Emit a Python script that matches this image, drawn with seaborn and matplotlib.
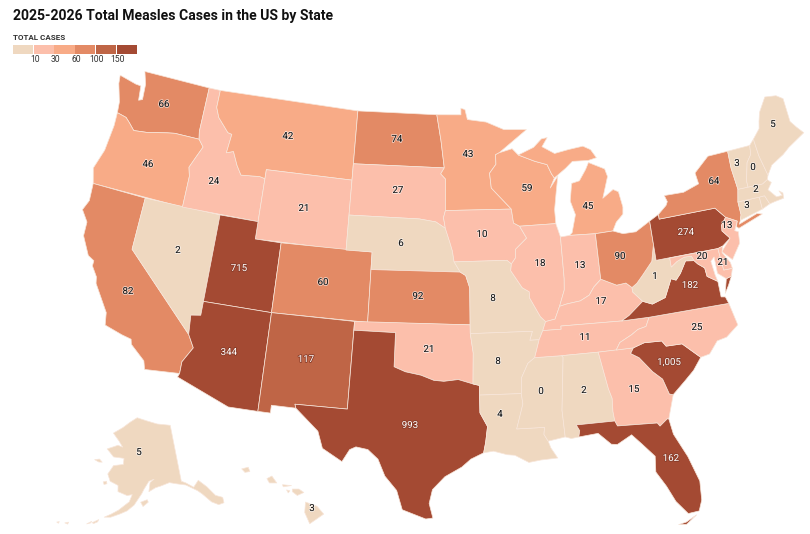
import math
import matplotlib
matplotlib.use("Agg")
import matplotlib.pyplot as plt
from matplotlib.patches import Polygon, Rectangle
import matplotlib.patheffects as pe
import seaborn as sns

# ---------- data ----------
state_codes = ["AK","HI","WA","OR","CA","NV","ID","MT","WY","UT","AZ","CO","NM","ND","SD","NE","KS","OK","TX",
               "MN","IA","MO","AR","LA","WI","IL","MS","MI","IN","KY","TN","AL","GA","FL","SC","NC","VA","WV",
               "OH","PA","NY","NJ","MD","DE","CT","RI","MA","VT","NH","ME"]
state_cases = [5,3,66,46,82,2,24,42,21,715,344,60,117,74,27,6,92,21,993,
               43,10,8,8,4,59,18,0,45,13,17,11,2,15,162,1005,25,182,1,
               90,274,64,13,20,21,3,3,2,3,0,5]
legend_breaks = [10,30,60,100,150]
bin_colors = ["#EFD8C0","#FCBFAB","#F8AB87","#E38A65","#BF6546","#A44A33"]

title_text = "2025-2026 Total Measles Cases in the US by State"
legend_title = "TOTAL CASES"

# state outlines (lon, lat), rough geography
shapes = {
"WA":[[(-124.7,48.38),(-123.2,48.15),(-122.75,48.13),(-122.6,47.3),(-122.3,47.4),(-122.4,48.3),(-122.76,49),(-117.03,49),(-117.04,46.42),(-116.92,45.99),(-118.98,46),(-119.6,45.92),(-121.2,45.65),(-122.3,45.55),(-122.8,45.9),(-123.2,46.15),(-124,46.27),(-124.1,46.9),(-124.6,47.9)]],
"OR":[[(-124,46.27),(-123.2,46.15),(-122.8,45.9),(-122.3,45.55),(-121.2,45.65),(-119.6,45.92),(-118.98,46),(-116.92,45.99),(-116.46,45.6),(-116.85,44.95),(-117.22,44.3),(-117.03,43.8),(-117.03,42),(-124.2,42),(-124.55,42.84),(-124.1,44),(-123.95,45.5)]],
"CA":[[(-124.2,42),(-120,42),(-120,39),(-114.63,35),(-114.13,34.3),(-114.72,33.4),(-114.72,32.72),(-117.12,32.53),(-117.3,33),(-118.4,33.75),(-118.5,34.03),(-119.2,34.15),(-120.5,34.45),(-120.65,35.15),(-121.9,36.6),(-122,36.96),(-122.5,37.5),(-122.5,37.8),(-123,38),(-123.75,39),(-123.8,39.8),(-124.4,40.4),(-124.1,41)]],
"NV":[[(-120,42),(-114.04,42),(-114.05,36.2),(-114.75,36.1),(-114.63,35),(-120,39)]],
"ID":[[(-117.03,49),(-116.05,49),(-116.05,48),(-115.7,47.45),(-114.7,46.7),(-114.35,46.65),(-114.5,45.55),(-113.95,45.7),(-113.45,44.95),(-113,44.45),(-111.5,44.55),(-111.05,44.48),(-111.05,42),(-117.03,42),(-117.03,43.8),(-117.22,44.3),(-116.85,44.95),(-116.46,45.6),(-116.92,45.99),(-117.04,46.42)]],
"MT":[[(-116.05,49),(-104.05,49),(-104.05,45),(-111.05,45),(-111.05,44.48),(-111.5,44.55),(-113,44.45),(-113.45,44.95),(-113.95,45.7),(-114.5,45.55),(-114.35,46.65),(-114.7,46.7),(-115.7,47.45),(-116.05,48)]],
"WY":[[(-111.05,45),(-104.05,45),(-104.05,41),(-111.05,41)]],
"UT":[[(-114.05,42),(-111.05,42),(-111.05,41),(-109.05,41),(-109.05,37),(-114.05,37)]],
"CO":[[(-109.05,41),(-102.05,41),(-102.05,37),(-109.05,37)]],
"AZ":[[(-114.05,37),(-109.05,37),(-109.05,31.33),(-111.07,31.33),(-114.81,32.5),(-114.72,32.72),(-114.72,33.4),(-114.13,34.3),(-114.63,35),(-114.75,36.1),(-114.05,36.2)]],
"NM":[[(-109.05,37),(-103,37),(-103.05,32),(-106.62,32),(-106.53,31.78),(-108.2,31.78),(-108.2,31.33),(-109.05,31.33)]],
"ND":[[(-104.05,49),(-97.23,49),(-96.85,47.5),(-96.56,45.94),(-104.05,45.94)]],
"SD":[[(-104.05,45.94),(-96.56,45.94),(-96.85,45.6),(-96.45,45.3),(-96.45,43.5),(-96.6,43.1),(-96.45,42.49),(-97.2,42.85),(-98.5,43),(-104.05,43)]],
"NE":[[(-104.05,43),(-98.5,43),(-97.2,42.85),(-96.45,42.49),(-96.1,41.7),(-95.9,41.2),(-95.77,40.58),(-95.31,40),(-102.05,40),(-102.05,41),(-104.05,41)]],
"KS":[[(-102.05,40),(-95.31,40),(-94.9,39.8),(-94.61,39.1),(-94.62,37),(-102.05,37)]],
"OK":[[(-103,37),(-94.62,37),(-94.62,36.5),(-94.43,35.4),(-94.48,33.64),(-95.5,33.9),(-96.5,33.8),(-97.2,33.85),(-98.1,34.13),(-99.2,34.3),(-100,34.56),(-100,36.5),(-103,36.5)]],
"TX":[[(-106.62,32),(-103.05,32),(-103,36.5),(-100,36.5),(-100,34.56),(-99.2,34.3),(-98.1,34.13),(-97.2,33.85),(-96.5,33.8),(-95.5,33.9),(-94.48,33.64),(-94.04,33.55),(-94.04,33),(-94.04,31.99),(-93.55,31.2),(-93.7,30.3),(-93.85,29.7),(-94.7,29.35),(-95.3,28.9),(-96.4,28.35),(-97.2,27.6),(-97.4,26.8),(-97.15,25.96),(-97.6,25.9),(-99.1,26.4),(-99.5,27.5),(-100.3,28.3),(-100.8,29.25),(-101.5,29.77),(-102.3,29.88),(-102.7,29.7),(-103.15,28.98),(-104.5,29.65),(-104.9,30.6),(-106.53,31.78)]],
"MN":[[(-97.23,49),(-95.15,49),(-95.15,49.38),(-94.8,49.3),(-94.6,48.72),(-93,48.55),(-91.5,48.07),(-89.6,48),(-92,46.75),(-92.3,46.65),(-92.3,46.1),(-92.85,45.6),(-92.75,44.75),(-91.22,43.5),(-96.45,43.5),(-96.45,45.3),(-96.85,45.6),(-96.56,45.94),(-96.85,47.5)]],
"IA":[[(-96.45,43.5),(-91.22,43.5),(-91.1,42.7),(-90.64,42.5),(-90.15,41.8),(-91.05,41.2),(-91.1,40.7),(-91.42,40.38),(-91.75,40.6),(-95.77,40.58),(-95.9,41.2),(-96.1,41.7),(-96.45,42.49),(-96.6,43.1)]],
"MO":[[(-95.77,40.58),(-91.75,40.6),(-91.42,40.38),(-91.5,40),(-90.7,39),(-90.2,38.75),(-90.2,38.4),(-89.5,37.3),(-89.15,37),(-89.4,36.5),(-89.7,36),(-90.37,36),(-90.15,36.5),(-94.62,36.5),(-94.62,37),(-94.61,39.1),(-94.9,39.8),(-95.31,40)]],
"AR":[[(-94.62,36.5),(-90.15,36.5),(-90.37,36),(-89.7,36),(-90.1,35),(-90.6,34.7),(-91.1,33.9),(-91.17,33),(-94.04,33),(-94.04,33.55),(-94.48,33.64),(-94.43,35.4)]],
"LA":[[(-94.04,33),(-91.17,33),(-91.1,32.4),(-91.6,31),(-89.73,31),(-89.8,30.6),(-89.55,30.2),(-89.4,29.8),(-89,29.2),(-90.1,29.15),(-90.9,29.05),(-91.8,29.5),(-92.3,29.55),(-93.2,29.78),(-93.85,29.7),(-93.7,30.3),(-93.55,31.2),(-94.04,31.99)]],
"MS":[[(-90.1,35),(-88.2,35),(-88.1,34.9),(-88.47,31.9),(-88.4,30.37),(-89.55,30.2),(-89.8,30.6),(-89.73,31),(-91.6,31),(-91.1,32.4),(-91.17,33),(-91.1,33.9),(-90.6,34.7)]],
"AL":[[(-88.2,35),(-85.6,35),(-85.18,32.87),(-85,32.3),(-85.05,31.55),(-85,31),(-87.6,31),(-87.4,30.65),(-87.5,30.3),(-88,30.25),(-88.4,30.37),(-88.47,31.9),(-88.1,34.9)]],
"GA":[[(-85.6,35),(-83.1,35),(-83.35,34.7),(-82.8,34.4),(-82,33.5),(-81.4,33),(-81.1,32.1),(-80.85,32.03),(-81.4,30.7),(-81.5,30.72),(-82.05,30.37),(-82.2,30.57),(-84.86,30.7),(-85,31),(-85.05,31.55),(-85,32.3),(-85.18,32.87)]],
"FL":[[(-87.6,31),(-85,31),(-84.86,30.7),(-82.2,30.57),(-82.05,30.37),(-81.5,30.72),(-81.4,30.7),(-81.25,29.8),(-80.55,28.4),(-80.05,26.9),(-80.13,25.8),(-80.4,25.2),(-81.1,25.15),(-81.75,25.95),(-82.2,26.9),(-82.75,27.8),(-82.65,28.7),(-83.4,29.5),(-84,30.1),(-85,29.65),(-85.4,29.7),(-86.2,30.4),(-87.5,30.3),(-87.4,30.65)],
      [(-81.8,24.6),(-81.3,24.68),(-80.6,25.0),(-81.3,24.55)]],
"SC":[[(-83.35,34.7),(-83.1,35),(-82.3,35.2),(-81.05,35.15),(-80.8,34.82),(-79.67,34.8),(-78.55,33.86),(-79.2,33.2),(-79.9,32.7),(-80.85,32.03),(-81.1,32.1),(-81.4,33),(-82,33.5),(-82.8,34.4)]],
"NC":[[(-84.32,35),(-83.1,35),(-82.3,35.2),(-81.05,35.15),(-80.8,34.82),(-79.67,34.8),(-78.55,33.86),(-77.9,33.95),(-77.2,34.6),(-76.5,34.7),(-75.55,35.25),(-75.85,36.55),(-81.68,36.59),(-82,36.1),(-82.6,36),(-83.1,35.75),(-84,35.4)]],
"TN":[[(-90.1,35),(-88.2,35),(-85.6,35),(-84.32,35),(-84,35.4),(-83.1,35.75),(-82.6,36),(-82,36.1),(-81.68,36.59),(-83.68,36.6),(-88.07,36.68),(-88.07,36.5),(-89.4,36.5),(-89.7,36)]],
"KY":[[(-89.4,36.5),(-88.07,36.5),(-88.07,36.68),(-83.68,36.6),(-83.1,36.85),(-81.97,37.54),(-82.6,38.15),(-82.6,38.4),(-83,38.7),(-83.7,38.65),(-84.8,39.1),(-85.4,38.7),(-85.8,38.27),(-86.5,38),(-87.5,37.9),(-88.05,37.8),(-88.45,37.1),(-89.15,37)]],
"VA":[[(-83.68,36.6),(-81.68,36.59),(-75.85,36.55),(-76,36.95),(-76.3,37),(-76.3,37.9),(-77,38.3),(-77.05,38.8),(-77.5,39.1),(-77.72,39.32),(-78.35,39.4),(-78.9,38.75),(-79.3,38.42),(-79.65,38.55),(-80.3,37.55),(-81.3,37.3),(-81.97,37.54),(-83.1,36.85)],
      [(-75.95,37.15),(-75.6,37.55),(-75.25,38.03),(-75.65,37.95)]],
"WV":[[(-82.6,38.4),(-82.6,38.15),(-81.97,37.54),(-81.3,37.3),(-80.3,37.55),(-79.65,38.55),(-79.3,38.42),(-78.9,38.75),(-78.35,39.4),(-77.72,39.32),(-77.85,39.6),(-78.4,39.62),(-79,39.45),(-79.48,39.2),(-79.48,39.72),(-80.52,39.72),(-80.52,40.64),(-80.85,39.7),(-81.7,39),(-82.2,38.6)]],
"MD":[[(-79.48,39.72),(-75.79,39.72),(-75.7,38.46),(-75.05,38.45),(-75.25,38.03),(-75.65,37.95),(-76.2,38.35),(-76.2,39.3),(-76.5,39.1),(-76.4,38.3),(-76.3,37.9),(-77,38.3),(-77.05,38.8),(-77.5,39.1),(-77.72,39.32),(-77.85,39.6),(-78.4,39.62),(-79,39.45),(-79.48,39.2)]],
"DE":[[(-75.79,39.72),(-75.4,39.8),(-75.55,39.45),(-75.1,38.8),(-75.05,38.45),(-75.7,38.46)]],
"PA":[[(-80.52,41.98),(-79.76,42.27),(-79.76,42),(-75.35,42),(-74.7,41.36),(-75.13,40.98),(-75.2,40.65),(-74.72,40.15),(-75.4,39.8),(-75.79,39.72),(-80.52,39.72)]],
"NJ":[[(-74.7,41.36),(-73.9,41),(-74.25,40.5),(-74,40.4),(-74.1,39.75),(-74.9,38.93),(-75.55,39.5),(-74.72,40.15),(-75.2,40.65),(-75.13,40.98)]],
"NY":[[(-79.76,42.27),(-79.05,42.7),(-78.9,42.9),(-79.05,43.27),(-77.5,43.25),(-76.2,43.55),(-76.3,44.2),(-75,44.98),(-73.35,45),(-73.4,44),(-73.27,42.75),(-73.5,42.05),(-73.5,41.3),(-73.65,41),(-73.8,40.8),(-72.3,41.15),(-71.9,41.05),(-73.9,40.58),(-74.05,40.7),(-73.9,41),(-74.7,41.36),(-75.35,42),(-79.76,42)]],
"CT":[[(-73.5,42.05),(-71.8,42.02),(-71.8,41.32),(-73.65,41),(-73.5,41.3)]],
"RI":[[(-71.8,42.02),(-71.38,42.02),(-71.15,41.5),(-71.8,41.32)]],
"MA":[[(-73.5,42.05),(-73.27,42.75),(-71.3,42.7),(-70.85,42.87),(-70.6,42.65),(-71,42.3),(-70.5,41.78),(-70.05,41.78),(-70.2,42.07),(-69.95,41.9),(-70,41.6),(-70.7,41.55),(-71.15,41.5),(-71.38,42.02),(-71.8,42.02)]],
"VT":[[(-73.35,45),(-71.5,45.01),(-71.6,44.5),(-72.05,44.1),(-72.45,43.1),(-72.46,42.73),(-73.27,42.75),(-73.4,44)]],
"NH":[[(-71.5,45.01),(-71.08,45.3),(-71,44.3),(-70.7,43.1),(-70.85,42.87),(-71.3,42.7),(-72.46,42.73),(-72.45,43.1),(-72.05,44.1),(-71.6,44.5)]],
"ME":[[(-71.08,45.3),(-70.4,45.8),(-70.25,46.2),(-70,46.7),(-69.23,47.46),(-68.3,47.35),(-67.8,47.07),(-67.8,45.7),(-67.45,45.3),(-67,44.85),(-68.5,44.3),(-69.1,44),(-70.2,43.6),(-70.7,43.1),(-71,44.3)]],
"OH":[[(-84.82,41.7),(-83.45,41.73),(-82.7,41.5),(-81.7,41.5),(-80.52,41.98),(-80.52,40.64),(-80.85,39.7),(-81.7,39),(-82.2,38.6),(-82.6,38.4),(-83,38.7),(-83.7,38.65),(-84.82,39.1)]],
"MI":[[(-86.82,41.76),(-84.82,41.7),(-83.45,41.73),(-83.1,42.2),(-82.5,42.6),(-82.42,43),(-82.6,43.9),(-83,44.07),(-83.9,43.65),(-83.3,44.85),(-83.45,45.3),(-84.7,45.78),(-85,45.4),(-85.6,44.8),(-86.25,44.7),(-86.5,43.7),(-86.2,42.9),(-86.6,41.9)],
      [(-90.42,46.57),(-89.1,46.95),(-88.4,47.4),(-87.9,47.45),(-88.4,46.95),(-87.4,46.5),(-86.2,46.65),(-85,46.75),(-84.4,46.5),(-84,46),(-84.7,45.9),(-86,45.95),(-86.6,45.6),(-87.6,45.1),(-87.8,45.35),(-88.1,45.9),(-89.1,46.15)]],
"WI":[[(-92,46.75),(-90.9,46.95),(-90.42,46.57),(-89.1,46.15),(-88.1,45.9),(-87.8,45.35),(-87.6,45.1),(-88,44.55),(-87.3,45.2),(-87.55,44.3),(-87.8,43.3),(-87.8,42.5),(-90.64,42.5),(-91.1,42.7),(-91.22,43.5),(-92.75,44.75),(-92.85,45.6),(-92.3,46.1),(-92.3,46.65)]],
"IL":[[(-90.64,42.5),(-87.8,42.5),(-87.53,41.72),(-87.53,39.35),(-87.6,38.7),(-88.05,37.8),(-88.45,37.1),(-89.15,37),(-89.5,37.3),(-90.2,38.4),(-90.2,38.75),(-90.7,39),(-91.5,40),(-91.42,40.38),(-91.1,40.7),(-91.05,41.2),(-90.15,41.8)]],
"IN":[[(-87.53,41.72),(-86.82,41.76),(-84.82,41.7),(-84.82,39.1),(-85.4,38.7),(-85.8,38.27),(-86.5,38),(-87.5,37.9),(-88.05,37.8),(-87.6,38.7),(-87.53,39.35)]],
"AK":[[(-141,69.65),(-141,60.3),(-139.7,59.9),(-137.5,58.9),(-135.5,59.8),(-133.5,58.4),(-131.8,56.6),(-130,55.9),(-130.2,55),(-131.8,55),(-133.5,55.8),(-135.5,57.5),(-136.6,58.2),(-139.8,59.55),(-142.5,60),(-145,60.4),(-148,60),(-149.7,59.8),(-151.9,59.2),(-151.4,60.7),(-150,61.2),(-151.8,60.9),(-153.5,59.6),(-154.2,58.9),(-156.5,57),(-158.5,56),(-160.5,55.4),(-163,54.7),(-164.8,54.55),(-163,55.2),(-161,56),(-158,57.5),(-157.2,58.7),(-158.8,58.5),(-161.8,59),(-162,60),(-164.8,60.5),(-166,61.6),(-165,62.6),(-164.5,63.1),(-161,63.5),(-161,64.5),(-165,64.5),(-168,65.6),(-164,66.5),(-162,66.3),(-163.8,67.2),(-166.8,68.35),(-163,69.5),(-160,70.5),(-156.6,71.35),(-152,70.85),(-147,70.2)],
      [(-154.5,57.5),(-152.5,57.9),(-152.2,57.5),(-153.8,56.8)],
      [(-167,60.2),(-166,60.4),(-165.7,60),(-166.6,59.8)],
      [(-171.7,63.4),(-170,63.7),(-168.8,63.3),(-170,63.2)],
      [(-167.8,53.3),(-166.2,54),(-166.4,53.6),(-167.4,53.2)],
      [(-169.2,52.9),(-168,53.5),(-168.2,53.2)],
      [(-174.9,52.1),(-174,52.4),(-174.1,52.05)],
      [(-177,51.8),(-176.4,52),(-176.5,51.7)]],
"HI":[[(-155.9,20.2),(-155.2,19.95),(-154.8,19.5),(-155.65,18.95),(-155.95,19.6)],
      [(-156.7,20.95),(-156.3,20.95),(-156,20.75),(-156.4,20.58),(-156.7,20.8)],
      [(-158.25,21.55),(-157.95,21.7),(-157.65,21.3),(-158.1,21.3)],
      [(-159.8,22.1),(-159.4,22.2),(-159.3,21.95),(-159.6,21.9)],
      [(-157.3,21.2),(-156.75,21.15),(-157.25,21.08)],
      [(-157.05,20.9),(-156.85,20.85),(-156.95,20.73)]],
}

# label anchor per state, in figure pixels
label_xy = {"AK":(139,452),"HI":(312,508),"WA":(164,104),"OR":(148,164),"CA":(128,291),"NV":(178,250),"ID":(214,181),
"MT":(288,136),"WY":(304,208),"UT":(239,268),"AZ":(229,352),"CO":(323,282),"NM":(306,359),"ND":(397,139),"SD":(398,190),
"NE":(401,243),"KS":(418,296),"OK":(429,349),"TX":(410,425),"MN":(468,154),"IA":(482,234),"MO":(493,298),"AR":(498,361),
"LA":(500,414),"WI":(527,188),"IL":(540,263),"MS":(541,391),"MI":(588,206),"IN":(580,265),"KY":(601,301),"TN":(585,337),
"AL":(584,390),"GA":(634,389),"FL":(671,458),"SC":(669,362),"NC":(697,327),"VA":(690,285),"WV":(655,276),"OH":(620,256),
"PA":(686,232),"NY":(714,181),"NJ":(727,225),"MD":(702,256),"DE":(723,262),"CT":(747,205),"MA":(756,189),"VT":(737,163),
"NH":(753,167),"ME":(773,124)}

# ---------- projection (conic equal-area, composite layout) ----------
K, TX0, TY0 = 1000, 443, 295

def albers(lon, lat, rot, p0, p1, clon, clat, k, tx, ty):
    a0, a1 = math.radians(p0), math.radians(p1)
    n = (math.sin(a0) + math.sin(a1)) / 2
    c = 1 + math.sin(a0) * (2 * n - math.sin(a0))
    r0 = math.sqrt(c) / n
    def raw(lo, la):
        r = math.sqrt(max(c - 2 * n * math.sin(math.radians(la)), 0)) / n
        t = math.radians(lo + rot) * n
        return r * math.sin(t), r0 - r * math.cos(t)
    cx, cy = raw(clon, clat)
    x, y = raw(lon, lat)
    return tx + k * (x - cx), ty - k * (y - cy)

def project(code, lon, lat):
    if code == "AK":
        return albers(lon, lat, 154, 55, 65, -156, 58.5, 0.35 * K, TX0 - 0.307 * K, TY0 + 0.201 * K)
    if code == "HI":
        return albers(lon, lat, 157, 8, 18, -160, 19.9, K, TX0 - 0.205 * K, TY0 + 0.212 * K)
    return albers(lon, lat, 96, 29.5, 45.5, -96.6, 38.7, K, TX0, TY0)

# ---------- drawing ----------
sns.set_theme(style="white")
plt.rcParams["font.family"] = ["Roboto", "DejaVu Sans"]

fig, ax = plt.subplots(figsize=(8.1, 5.34), dpi=100)
fig.subplots_adjust(0, 0, 1, 1)
ax.set_xlim(0, 810); ax.set_ylim(534, 0); ax.axis("off")

def bin_index(v):
    return sum(v >= b for b in legend_breaks)

values = dict(zip(state_codes, state_cases))
for code in state_codes:
    col = bin_colors[bin_index(values[code])]
    for ring in shapes[code]:
        pts = [project(code, lo, la) for lo, la in ring]
        ax.add_patch(Polygon(pts, closed=True, facecolor=col, edgecolor="#F8E6DA", linewidth=0.5, joinstyle="round"))

for code, (x, y) in label_xy.items():
    v = values[code]
    dark = bin_index(v) >= 4
    ax.text(x, y, f"{v:,}", ha="center", va="center", fontsize=7,
            color="white" if dark else "#1a1a1a",
            path_effects=[pe.withStroke(linewidth=1.2, foreground="#8a3d2a" if dark else (1, 1, 1, 0.6))])

fig.text(13 / 810, 1 - 16 / 534, title_text, fontsize=10.1, fontweight="bold", color="#111111", va="center", ha="left")
fig.text(13 / 810, 1 - 37 / 534, legend_title, fontsize=5.8, fontweight="bold", color="#333333", va="center", ha="left")
sw = 20.7
for i, col in enumerate(bin_colors):
    ax.add_patch(Rectangle((13 + i * sw, 45), sw - 0.6, 9, facecolor=col, edgecolor="none"))
for i, b in enumerate(legend_breaks):
    ax.text(13 + (i + 1) * sw + 1, 60, str(b), ha="center", va="center", fontsize=6.2, color="#333333")

fig.savefig("out.png", dpi=100)
